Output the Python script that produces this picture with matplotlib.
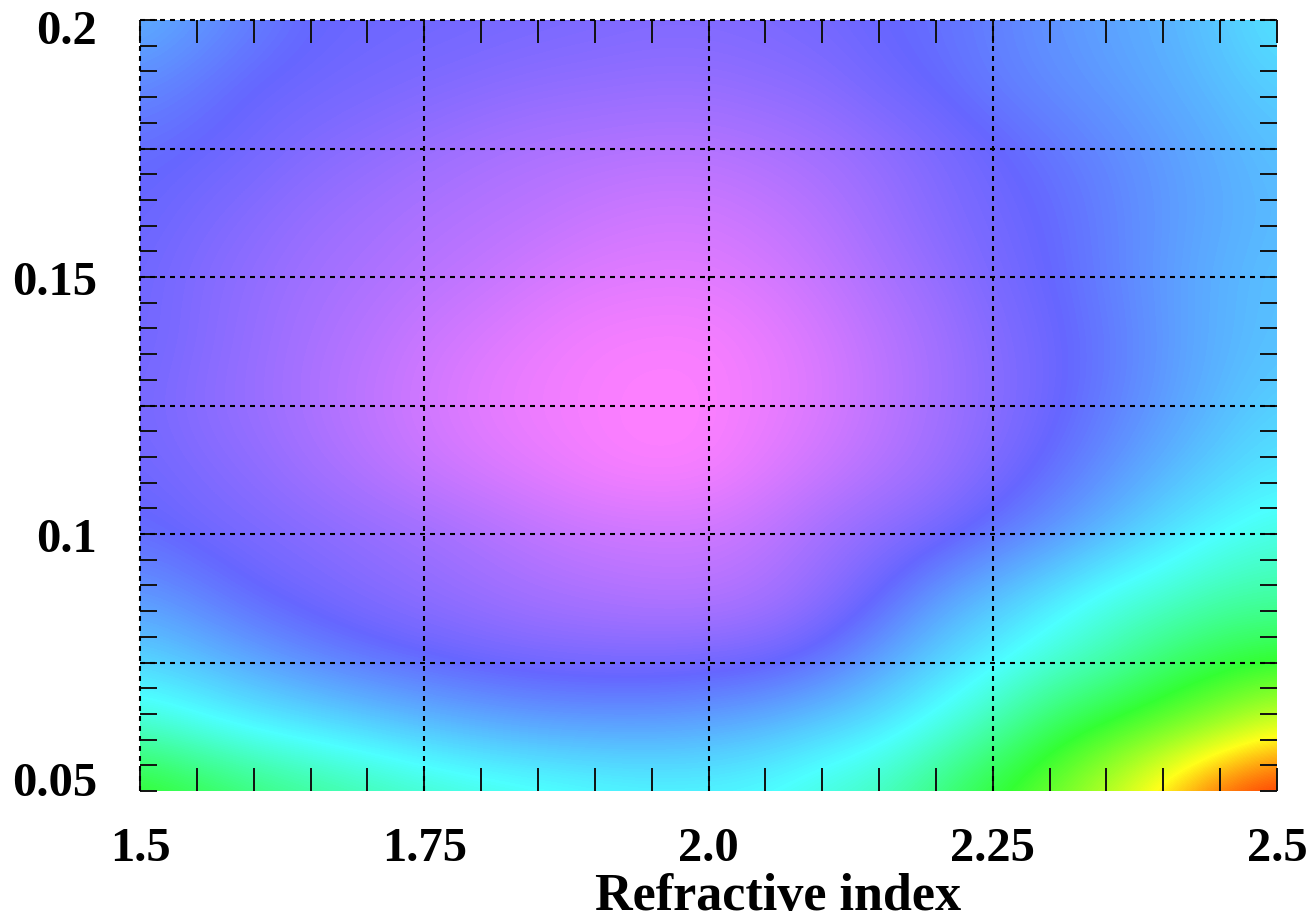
import numpy as np
import matplotlib
matplotlib.use("Agg")
import matplotlib.pyplot as plt
from matplotlib.colors import LinearSegmentedColormap
from matplotlib.ticker import FixedLocator, MultipleLocator
from matplotlib.transforms import ScaledTranslation

# Sampling nodes of the map
refractive_index = [1.50, 1.55, 1.60, 1.65, 1.70, 1.75, 1.80, 1.85, 1.90, 1.95, 2.00,
                    2.05, 2.10, 2.15, 2.20, 2.25, 2.30, 2.35, 2.40, 2.45, 2.50]
y_vals = [0.05, 0.0625, 0.075, 0.0875, 0.1, 0.1125, 0.125,
          0.1375, 0.15, 0.1625, 0.175, 0.1875, 0.2]

# Normalised misfit, one row per y value (bottom to top)
misfit_005 = [0.62, 0.58, 0.54, 0.51, 0.485, 0.46, 0.44, 0.425, 0.41, 0.40, 0.40,
              0.41, 0.44, 0.47, 0.53, 0.60, 0.66, 0.74, 0.84, 0.95, 1.00]
misfit_00625 = [0.45, 0.42, 0.39, 0.37, 0.345, 0.32, 0.30, 0.285, 0.28, 0.28, 0.29,
                0.31, 0.34, 0.37, 0.42, 0.48, 0.56, 0.61, 0.65, 0.70, 0.77]
misfit_0075 = [0.35, 0.32, 0.285, 0.25, 0.225, 0.205, 0.19, 0.18, 0.175, 0.175, 0.18,
               0.19, 0.22, 0.28, 0.34, 0.39, 0.44, 0.48, 0.54, 0.58, 0.60]
misfit_00875 = [0.27, 0.24, 0.205, 0.185, 0.165, 0.15, 0.135, 0.12, 0.11, 0.10, 0.10,
                0.115, 0.15, 0.20, 0.27, 0.32, 0.37, 0.42, 0.445, 0.48, 0.49]
misfit_010 = [0.21, 0.19, 0.175, 0.16, 0.145, 0.13, 0.11, 0.09, 0.075, 0.07, 0.07,
              0.09, 0.125, 0.155, 0.18, 0.22, 0.26, 0.31, 0.36, 0.40, 0.43]
misfit_01125 = [0.19, 0.17, 0.15, 0.125, 0.10, 0.075, 0.055, 0.035, 0.015, 0.005, 0.01,
                0.04, 0.07, 0.10, 0.13, 0.17, 0.21, 0.255, 0.30, 0.34, 0.37]
misfit_0125 = [0.18, 0.155, 0.135, 0.11, 0.085, 0.06, 0.035, 0.02, 0.01, 0.0, 0.005,
               0.025, 0.05, 0.085, 0.12, 0.155, 0.19, 0.23, 0.27, 0.31, 0.34]
misfit_01375 = [0.19, 0.165, 0.14, 0.115, 0.095, 0.07, 0.05, 0.03, 0.015, 0.01, 0.01,
                0.03, 0.055, 0.09, 0.12, 0.16, 0.19, 0.225, 0.265, 0.30, 0.32]
misfit_015 = [0.19, 0.165, 0.145, 0.125, 0.11, 0.095, 0.08, 0.06, 0.045, 0.04, 0.04,
              0.055, 0.08, 0.11, 0.14, 0.175, 0.20, 0.235, 0.27, 0.30, 0.32]
misfit_01625 = [0.20, 0.18, 0.16, 0.14, 0.125, 0.11, 0.10, 0.09, 0.075, 0.065, 0.065,
                0.08, 0.10, 0.13, 0.16, 0.185, 0.205, 0.235, 0.265, 0.29, 0.31]
misfit_0175 = [0.21, 0.20, 0.185, 0.165, 0.15, 0.135, 0.12, 0.11, 0.105, 0.10, 0.10,
               0.11, 0.125, 0.145, 0.17, 0.195, 0.22, 0.245, 0.27, 0.295, 0.32]
misfit_01875 = [0.25, 0.225, 0.20, 0.19, 0.18, 0.17, 0.16, 0.15, 0.145, 0.14, 0.14,
                0.15, 0.16, 0.185, 0.205, 0.23, 0.25, 0.27, 0.29, 0.315, 0.34]
misfit_020 = [0.30, 0.27, 0.235, 0.205, 0.195, 0.19, 0.185, 0.18, 0.175, 0.17, 0.17,
              0.175, 0.185, 0.20, 0.215, 0.235, 0.26, 0.28, 0.30, 0.33, 0.37]

x_tick_values = [1.5, 1.75, 2.0, 2.25, 2.5]
x_tick_labels = ["1.5", "1.75", "2.0", "2.25", "2.5"]
y_tick_values = [0.05, 0.1, 0.15, 0.2]
y_tick_labels = ["0.05", "0.1", "0.15", "0.2"]
x_grid = [1.5, 1.75, 2.0, 2.25]
y_grid = [0.075, 0.1, 0.125, 0.15, 0.175, 0.2]

# Hue-style colour scale: pink -> blue -> cyan -> green -> yellow -> red
cmap_stops = [(0.0, "#ff80ff"), (0.2, "#6666ff"), (0.4, "#4dffff"),
              (0.6, "#33ff33"), (0.8, "#ffff1a"), (1.0, "#ff1a00")]
cmap = LinearSegmentedColormap.from_list("hue_scale", cmap_stops)

misfit = np.array([misfit_005, misfit_00625, misfit_0075, misfit_00875, misfit_010,
                   misfit_01125, misfit_0125, misfit_01375, misfit_015, misfit_01625,
                   misfit_0175, misfit_01875, misfit_020])

# Pixel centres sit on the sampling nodes
dx = (refractive_index[-1] - refractive_index[0]) / (len(refractive_index) - 1)
dy = (y_vals[-1] - y_vals[0]) / (len(y_vals) - 1)
extent = [refractive_index[0] - dx / 2, refractive_index[-1] + dx / 2,
          y_vals[0] - dy / 2, y_vals[-1] + dy / 2]

font = "Liberation Serif"
W, H = 1310, 920
fig = plt.figure(figsize=(W / 100, H / 100), dpi=100)
ax = fig.add_axes([140 / W, 1 - 792 / H, 1137 / W, 771 / H])

ax.imshow(misfit, origin="lower", extent=extent, aspect="auto", cmap=cmap,
          vmin=0.0, vmax=1.0, interpolation="bicubic")
ax.set_xlim(1.5, 2.5)
ax.set_ylim(0.05, 0.2)
for spine in ax.spines.values():
    spine.set_visible(False)

# Dashed reference lines (left and top edges included)
for gx in x_grid:
    ax.axvline(gx, color="black", lw=1.5, ls=(0, (2.4, 2.4)), clip_on=False, zorder=3)
for gy in y_grid:
    ax.axhline(gy, color="black", lw=1.5, ls=(0, (2.4, 2.4)), clip_on=False, zorder=3)

ax.xaxis.set_major_locator(FixedLocator(x_tick_values))
ax.xaxis.set_minor_locator(MultipleLocator(0.05))
ax.yaxis.set_major_locator(FixedLocator(y_tick_values))
ax.yaxis.set_minor_locator(MultipleLocator(0.005))
ax.set_xticklabels(x_tick_labels)
ax.set_yticklabels(y_tick_labels)

# x labels are placed by their baseline, 70 px under the axis
ax.tick_params(axis="x", which="both", direction="in", top=True, bottom=True,
               length=16.5, width=1.4, color="#111111", pad=50)
ax.tick_params(axis="y", which="both", direction="in", left=True, right=True,
               length=12, width=1.4, color="#111111", pad=31)

for lab in ax.get_xticklabels() + ax.get_yticklabels():
    lab.set_fontfamily(font)
    lab.set_fontweight("bold")
    lab.set_fontsize(35)
for lab in ax.get_xticklabels():
    lab.set_verticalalignment("baseline")

# End labels on the y axis sit slightly inside the axis range
ylabs = ax.get_yticklabels()
ylabs[0].set_transform(ylabs[0].get_transform() + ScaledTranslation(0, 13 / 100, fig.dpi_scale_trans))
ylabs[-1].set_transform(ylabs[-1].get_transform() + ScaledTranslation(0, -6 / 100, fig.dpi_scale_trans))

ax.set_xlabel("Refractive index", fontfamily=font, fontweight="bold", fontsize=37.5,
              va="baseline")
ax.xaxis.set_label_coords(0.561, -(910 - 792) / 771)

fig.savefig("out.png", dpi=100)
